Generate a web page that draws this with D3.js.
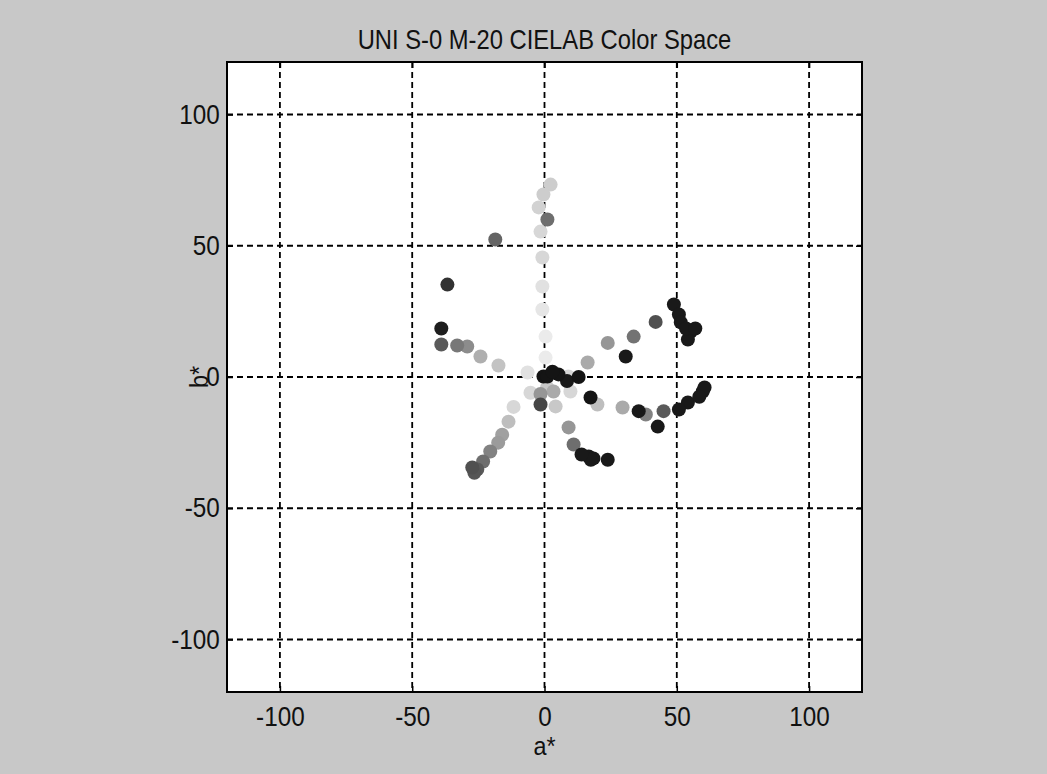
<!DOCTYPE html>
<html>
<head>
<meta charset="utf-8">
<script src="https://cdn.jsdelivr.net/npm/d3@7"></script>
<style>
body { margin:0; background:#c8c8c8; }
svg { display:block; }
text { font-family: "Liberation Sans", Arial, sans-serif; fill:#111; }
</style>
</head>
<body>
<svg id="chart" width="1047" height="774"></svg>
<script>
// data: a*, b* and grey level of each sample
var aVals = [2.3,-0.4,-2.2,1.1,-1.5,-0.8,-0.8,-0.8,0.4,0.4,
  -18.6,-36.7,-39,-39,-33,-29.2,-24.2,-17.4,-6.4,-0.4,
  1.1,5.3,9,12.9,1,3.4,-5.3,9.8,-1.5,4.2,
  -11.7,17.4,20,16.3,9.1,11,16.7,18.5,23.9,48.9,
  50.8,51.5,55.3,54.2,42,33.7,23.9,30.7,59.8,54.2,
  50.8,45,42.8,38.3,35.6,29.5,-13.6,-16,-17.5,-20.5,
  -23.2,-27.3,-25.4,-1.5,
  53.5,57,60.5,58.5,17.5,14,-26.5,3,8.5];
var bVals = [73.3,69.5,64.6,60,55.4,45.5,34.5,25.7,15.4,7.4,
  52.4,35.2,18.5,12.4,12,11.6,7.8,4.4,1.7,0.2,
  0.2,1,0.2,0,-4,-5.5,-6,-5.5,-10.5,-11.2,
  -11.4,-7.8,-10.5,5.5,-19.2,-25.7,-30.3,-31,-31.5,27.6,
  23.8,20.8,17.3,14.3,21,15.4,13,7.8,-5.5,-9.7,
  -12.4,-13,-18.9,-14.3,-13,-11.6,-17,-22,-25,-28.4,
  -32.2,-34.5,-35.2,-6.5,
  18.5,18.5,-4,-7.5,-31.5,-29.5,-36.5,2,-1.5];
var greyVals = [205,205,210,110,215,215,225,230,235,235,
  100,50,30,90,120,140,175,195,225,20,
  20,20,215,20,200,170,215,215,70,200,
  215,20,190,170,150,110,25,25,25,25,
  25,25,25,25,80,115,150,25,25,25,
  25,90,25,130,25,170,190,160,155,130,
  110,80,90,150,
  25,25,25,25,25,25,85,20,25];
var tickVals = [-100,-50,0,50,100];

var points = aVals.map(function(a, i) {
  return {a: a, b: bVals[i], g: greyVals[i]};
});
// draw light ones first so dark ones sit on top
points.sort(function(p, q) { return q.g - p.g; });

var svg = d3.select("svg#chart");
var pLeft = 227, pRight = 862, pTop = 62, pBottom = 692;

var x = d3.scaleLinear().domain([-120, 120]).range([pLeft, pRight]);
var y = d3.scaleLinear().domain([-120, 120]).range([pBottom, pTop]);
var fmt = function(d) { return String(d); }; // plain hyphen minus like the original

svg.append("rect")
  .attr("x", pLeft).attr("y", pTop)
  .attr("width", pRight - pLeft).attr("height", pBottom - pTop)
  .attr("fill", "#fff");

// dashed grid
var grid = svg.append("g")
  .attr("stroke", "#000").attr("stroke-width", 1.8)
  .attr("stroke-dasharray", "6,4");
grid.selectAll("line.vx").data(tickVals).enter().append("line")
  .attr("x1", function(d) { return x(d); }).attr("x2", function(d) { return x(d); })
  .attr("y1", pTop).attr("y2", pBottom);
grid.selectAll("line.hy").data(tickVals).enter().append("line")
  .attr("y1", function(d) { return y(d); }).attr("y2", function(d) { return y(d); })
  .attr("x1", pLeft).attr("x2", pRight);

// points
svg.append("g").selectAll("circle").data(points).enter().append("circle")
  .attr("cx", function(d) { return x(d.a); })
  .attr("cy", function(d) { return y(d.b); })
  .attr("r", 7)
  .attr("fill", function(d) { return d3.rgb(d.g, d.g, d.g); });

// axes, ticks pointing inward like matlab
var xAxis = svg.append("g").attr("transform", "translate(0," + pBottom + ")")
  .call(d3.axisBottom(x).tickValues(tickVals).tickSizeInner(-6).tickSizeOuter(0).tickPadding(15).tickFormat(fmt));
var xTop = svg.append("g").attr("transform", "translate(0," + pTop + ")")
  .call(d3.axisTop(x).tickValues(tickVals).tickSizeInner(-6).tickSizeOuter(0).tickFormat(""));
var yAxis = svg.append("g").attr("transform", "translate(" + pLeft + ",0)")
  .call(d3.axisLeft(y).tickValues(tickVals).tickSizeInner(-6).tickSizeOuter(0).tickPadding(8).tickFormat(fmt));
var yRight = svg.append("g").attr("transform", "translate(" + pRight + ",0)")
  .call(d3.axisRight(y).tickValues(tickVals).tickSizeInner(-6).tickSizeOuter(0).tickFormat(""));

[xAxis, xTop, yAxis, yRight].forEach(function(g) {
  g.select(".domain").remove();
  g.selectAll("line").attr("stroke", "#000").attr("stroke-width", 1.5);
  g.selectAll("text").attr("font-size", 27)
    .attr("font-family", "'Liberation Sans', Arial, sans-serif").attr("fill", "#111")
    .attr("transform", "scale(0.9,1)");
});

svg.append("rect")
  .attr("x", pLeft).attr("y", pTop)
  .attr("width", pRight - pLeft).attr("height", pBottom - pTop)
  .attr("fill", "none").attr("stroke", "#000").attr("stroke-width", 2);

var midX = (pLeft + pRight) / 2;
svg.append("text")
  .attr("transform", "translate(" + midX + ",49) scale(0.88,1)")
  .attr("text-anchor", "middle").attr("font-size", 27)
  .text("UNI S-0 M-20 CIELAB Color Space");

svg.append("text")
  .attr("transform", "translate(" + midX + ",755) scale(0.9,1)")
  .attr("text-anchor", "middle").attr("font-size", 26)
  .text("a*");

svg.append("text")
  .attr("transform", "translate(208," + y(0) + ") rotate(-90) scale(0.9,1)")
  .attr("text-anchor", "middle").attr("font-size", 26)
  .text("b*");
</script>
</body>
</html>
